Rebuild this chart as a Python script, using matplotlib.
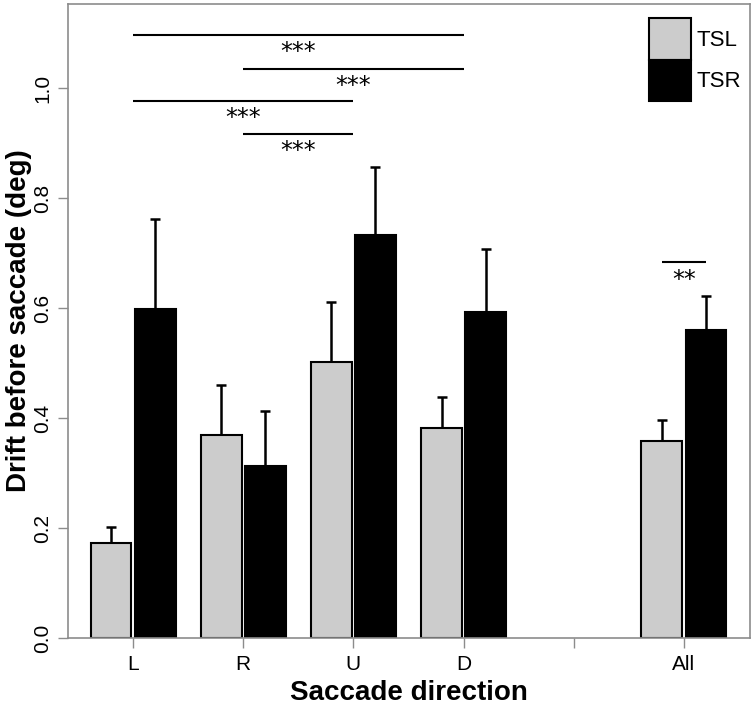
import numpy as np
import matplotlib.pyplot as plt

plt.rcParams['font.family'] = ['Liberation Sans', 'DejaVu Sans']

# data
directions = ['L', 'R', 'U', 'D', '', 'All']
tsl = [0.173, 0.369, 0.502, 0.382, np.nan, 0.358]
tsl_err = [0.029, 0.091, 0.109, 0.056, np.nan, 0.038]
tsr = [0.599, 0.312, 0.733, 0.593, np.nan, 0.560]
tsr_err = [0.163, 0.100, 0.123, 0.114, np.nan, 0.062]

# significance brackets between directions (from, to, height, stars)
sig_from = ['L', 'R', 'L', 'R']
sig_to = ['D', 'D', 'U', 'U']
sig_y = [1.096, 1.035, 0.976, 0.916]
sig_txt = ['***', '***', '***', '***']
all_sig_y = 0.683
all_sig_txt = '**'

frame_col = '#8c8c8c'
x = np.arange(1, len(directions) + 1)
w = 0.37
off = 0.2
cw = 0.045  # half width of error caps

fig = plt.figure(figsize=(7.56, 7.06), dpi=100)
ax = fig.add_axes([68/756, 68/706, 682/756, 634/706])

ax.bar(x - off, tsl, w, color='#cccccc', edgecolor='black', linewidth=1.5, label='TSL', zorder=2)
ax.bar(x + off, tsr, w, color='black', edgecolor='black', linewidth=1.5, label='TSR', zorder=2)

# upper-only error bars
for xs, ys, es in [(x - off, tsl, tsl_err), (x + off, tsr, tsr_err)]:
    ys = np.array(ys); es = np.array(es)
    ok = ~np.isnan(ys)
    ax.vlines(xs[ok], ys[ok], ys[ok] + es[ok], color='black', lw=1.8, zorder=3)
    ax.hlines(ys[ok] + es[ok], xs[ok] - cw, xs[ok] + cw, color='black', lw=1.8, zorder=3)

star_font = ['DejaVu Sans']
pos = dict(zip(directions, x))
for a, b, h, t in zip(sig_from, sig_to, sig_y, sig_txt):
    ax.plot([pos[a], pos[b]], [h, h], color='black', lw=1.5, solid_capstyle='butt')
    ax.text((pos[a] + pos[b]) / 2, h - 0.043, t, ha='center', va='baseline',
            fontsize=17, family=star_font)

xa = pos['All']
ax.plot([xa - off, xa + off], [all_sig_y, all_sig_y], color='black', lw=1.5, solid_capstyle='butt')
ax.text(xa, all_sig_y - 0.045, all_sig_txt, ha='center', va='baseline',
        fontsize=17, family=star_font)

ax.set_xlim(0.409, 6.6)
ax.set_ylim(0, 1.153)
ax.set_xticks(x)
ax.set_xticklabels(directions, fontsize=15)
ax.set_yticks(np.arange(0, 1.01, 0.2))
ax.set_yticklabels(['%.1f' % v for v in np.arange(0, 1.01, 0.2)], fontsize=15,
                   rotation=90, va='center')
ax.tick_params(axis='both', length=7.5, width=1, color=frame_col, direction='out')
ax.tick_params(axis='x', pad=5)
ax.tick_params(axis='y', pad=4)
for s in ax.spines.values():
    s.set_color(frame_col)
    s.set_linewidth(1.2)

ax.set_xlabel('Saccade direction', fontsize=20, fontweight='bold', labelpad=4)
ax.set_ylabel('Drift before saccade (deg)', fontsize=20, fontweight='bold', labelpad=1)

ax.legend(loc='upper right', bbox_to_anchor=(1 - 9/682, 1 - 14/634), frameon=False,
          fontsize=16, handlelength=1.9, handleheight=2.5, labelspacing=0,
          handletextpad=0.25, borderpad=0, borderaxespad=0)

fig.savefig('out.png', dpi=100)
